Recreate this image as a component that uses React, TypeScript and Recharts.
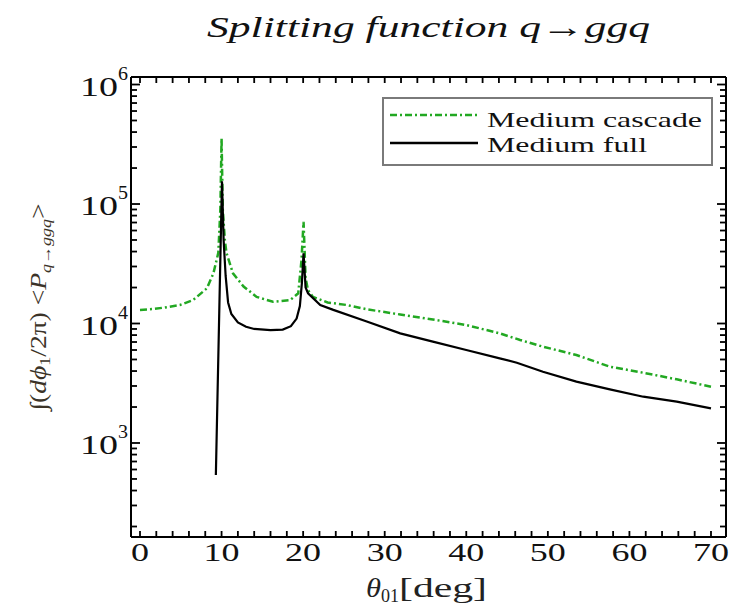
import React from 'react';
import { LineChart, Line, XAxis, YAxis, Legend } from 'recharts';

const seriesNames = ['Medium cascade', 'Medium full'];
const cascadeTheta = [0, 1.5, 3, 4.9, 6.5, 8.2, 9.0, 9.6, 9.85, 10.0, 10.15, 10.4, 10.6, 11.4, 12.7, 14.3, 16.3, 18.4, 19.4, 19.8, 20.05, 20.3, 20.6, 21.2, 23.0, 25.3, 27.8, 31.9, 35.9, 40.0, 44.1, 46.6, 49.4, 53.5, 57.6, 61.7, 65.8, 70.0];
const cascadeValue = [13000, 13200, 13600, 14300, 15700, 19700, 26300, 39000, 90000, 355000, 90000, 50000, 39000, 26300, 20400, 16700, 15200, 15700, 17900, 34000, 71000, 24000, 19000, 16700, 15000, 14300, 13150, 11900, 10800, 9710, 8270, 7280, 6400, 5450, 4350, 3870, 3410, 2960];
const fullTheta = [9.3, 10.05, 10.25, 10.5, 10.8, 11.2, 12.0, 13.0, 14.0, 16.0, 17.5, 18.5, 19.2, 19.6, 19.85, 20.05, 20.3, 20.6, 22.1, 23.7, 27.8, 31.9, 35.9, 40.0, 44.1, 46.2, 49.4, 53.5, 57.6, 61.7, 65.8, 70.0];
const fullValue = [540, 155000, 50000, 25000, 15000, 12000, 10200, 9400, 9000, 8800, 8900, 9500, 11000, 14000, 22000, 38700, 20000, 17900, 14300, 13000, 10400, 8270, 7050, 6000, 5110, 4700, 3950, 3260, 2810, 2440, 2220, 1950];

const xTicks = [0, 2, 4, 6, 8, 10, 12, 14, 16, 18, 20, 22, 24, 26, 28, 30, 32, 34, 36, 38, 40, 42, 44, 46, 48, 50, 52, 54, 56, 58, 60, 62, 64, 66, 68, 70];
const xTickLabels = ['0', '10', '20', '30', '40', '50', '60', '70'];
const yMajorTicks = [1000, 10000, 100000, 1000000];
const yMinorTicks = [200, 300, 400, 500, 600, 700, 800, 900, 2000, 3000, 4000, 5000, 6000, 7000, 8000, 9000, 20000, 30000, 40000, 50000, 60000, 70000, 80000, 90000, 200000, 300000, 400000, 500000, 600000, 700000, 800000, 900000];
const yTicks = [...yMinorTicks, ...yMajorTicks].sort((a, b) => a - b);

const cascadeData = cascadeTheta.map((t, i) => ({ theta: t, value: cascadeValue[i] }));
const fullData = fullTheta.map((t, i) => ({ theta: t, value: fullValue[i] }));

const GREEN = '#22a822';
const FONT = '"Liberation Serif", "Times New Roman", serif';
const X_DOMAIN = [-1.103, 71.84];
const Y_DOMAIN = [163.4, 1156000];
const FRAME = { stroke: '#000', strokeWidth: 2 };

const isMajorY = (v: number) => yMajorTicks.indexOf(v) >= 0;

const XTickBottom = (props: any) => {
  const x = Number(props.x);
  const y = Number(props.y);
  const v = props.payload.value;
  const label = xTickLabels.find((s) => Number(s) === v);
  return (
    <g>
      <rect x={x - 0.9} y={y - 6} width={1.8} height={6} fill="#000" />
      {label !== undefined && (
        <text x={x} y={y + 24} textAnchor="middle" fontSize={26} fontFamily={FONT} fill="#111"
          textLength={18 * label.length} lengthAdjust="spacingAndGlyphs">{label}</text>
      )}
    </g>
  );
};

const XTickTop = (props: any) => {
  const x = Number(props.x);
  const y = Number(props.y);
  return <rect x={x - 0.9} y={y} width={1.8} height={6} fill="#000" />;
};

const YTickLeft = (props: any) => {
  const x = Number(props.x);
  const y = Number(props.y);
  const v = props.payload.value;
  const major = isMajorY(v);
  const exp = Math.round(Math.log10(v));
  return (
    <g>
      <rect x={x} y={y - 0.9} width={major ? 9 : 6} height={1.8} fill="#000" />
      {major && (
        <g>
          <text x={x - 51} y={y + 11} fontSize={28} fontFamily={FONT} fill="#111"
            textLength={38} lengthAdjust="spacingAndGlyphs">10</text>
          <text x={x - 13} y={y - 5} fontSize={19} fontFamily={FONT} fill="#111"
            textLength={10} lengthAdjust="spacingAndGlyphs">{String(exp)}</text>
        </g>
      )}
    </g>
  );
};

const YTickRight = (props: any) => {
  const x = Number(props.x);
  const y = Number(props.y);
  const len = isMajorY(props.payload.value) ? 9 : 6;
  return <rect x={x - len} y={y - 0.9} width={len} height={1.8} fill="#000" />;
};

const XLabel = () => (
  <g fontFamily={FONT} fill="#222">
    <text x={366} y={597} fontSize={28} fontStyle="italic" textLength={15} lengthAdjust="spacingAndGlyphs">θ</text>
    <text x={381} y={602} fontSize={18} textLength={18} lengthAdjust="spacingAndGlyphs">01</text>
    <text x={399} y={597} fontSize={28} textLength={88} lengthAdjust="spacingAndGlyphs">[deg]</text>
  </g>
);

const YLabel = () => (
  <g transform="translate(46, 307) rotate(-90) scale(1.2, 1)" fontFamily={FONT} fill="#3b3328">
    <text x={0} y={0} textAnchor="middle" fontSize={23}>
      <tspan>∫(</tspan>
      <tspan fontStyle="italic">dϕ</tspan>
      <tspan fontSize={15} dy={4}>1</tspan>
      <tspan dy={-4}>/2π) &lt;</tspan>
      <tspan fontStyle="italic">P</tspan>
      <tspan fontSize={15} dy={5} fontStyle="italic">q→ggq</tspan>
      <tspan dy={-5}>&gt;</tspan>
    </text>
  </g>
);

const LegendBox = () => (
  <svg width={331} height={69} style={{ display: 'block' }}>
    <rect x={1} y={1} width={329} height={67} fill="#fff" stroke="#7a7a7a" strokeWidth={2} />
    <line x1={8} x2={96} y1={18} y2={18} stroke={GREEN} strokeWidth={2.5} strokeDasharray="7 3 2 3" />
    <text x={105} y={30} fontSize={21} fontFamily={FONT} fill="#111" textLength={215} lengthAdjust="spacingAndGlyphs">{seriesNames[0]}</text>
    <line x1={8} x2={96} y1={46} y2={46} stroke="#000" strokeWidth={2.5} />
    <text x={105} y={55} fontSize={21} fontFamily={FONT} fill="#111" textLength={160} lengthAdjust="spacingAndGlyphs">{seriesNames[1]}</text>
  </svg>
);

export default function App() {
  return (
    <div style={{ position: 'absolute', left: 0, top: 0, width: 740, height: 606, background: '#fff' }}>
      <LineChart width={740} height={606} margin={{ top: 76, right: 13, bottom: 29, left: 71 }}>
        <XAxis xAxisId="bottom" dataKey="theta" type="number" domain={X_DOMAIN} allowDataOverflow
          ticks={xTicks} interval={0} tickSize={0} tickMargin={0} tickLine={false} height={40}
          axisLine={FRAME} tick={<XTickBottom />} label={XLabel} />
        <XAxis xAxisId="top" orientation="top" dataKey="theta" type="number" domain={X_DOMAIN} allowDataOverflow
          ticks={xTicks} interval={0} tickSize={0} tickMargin={0} tickLine={false} height={1}
          axisLine={FRAME} tick={<XTickTop />} />
        <YAxis yAxisId="left" scale="log" type="number" domain={Y_DOMAIN} allowDataOverflow
          ticks={yTicks} interval={0} tickSize={0} tickMargin={0} tickLine={false} width={60}
          axisLine={FRAME} tick={<YTickLeft />} label={YLabel} />
        <YAxis yAxisId="right" orientation="right" scale="log" type="number" domain={Y_DOMAIN} allowDataOverflow
          ticks={yTicks} interval={0} tickSize={0} tickMargin={0} tickLine={false} width={1}
          axisLine={FRAME} tick={<YTickRight />} />
        <Line xAxisId="bottom" yAxisId="left" data={cascadeData} dataKey="value" name={seriesNames[0]}
          stroke={GREEN} strokeWidth={2.5} strokeDasharray="7 3 2 3" dot={false} isAnimationActive={false} type="linear" />
        <Line xAxisId="bottom" yAxisId="left" data={fullData} dataKey="value" name={seriesNames[1]}
          stroke="#000" strokeWidth={2.2} dot={false} isAnimationActive={false} type="linear" />
        <Legend layout="horizontal" verticalAlign="middle" align="center" content={<LegendBox />}
          wrapperStyle={{ left: 382, top: 97, width: 331, height: 69 }} />
      </LineChart>
      <svg width={740} height={70} style={{ position: 'absolute', left: 0, top: 0 }}>
        <text x={207} y={37} fontSize={30} fontStyle="italic" fontFamily={FONT} fill="#111"
          textLength={443} lengthAdjust="spacingAndGlyphs">Splitting function q→ggq</text>
      </svg>
    </div>
  );
}
